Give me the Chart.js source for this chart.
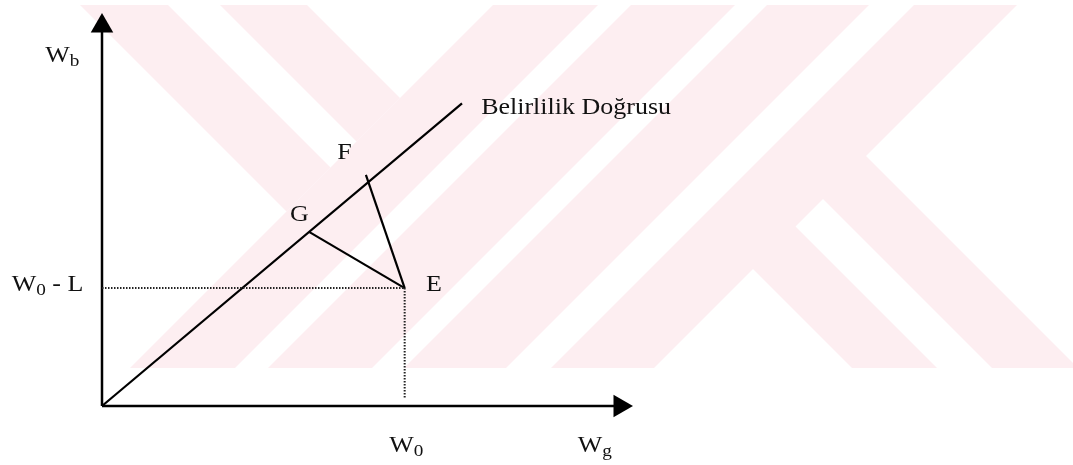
<!DOCTYPE html>
<html>
<head>
<meta charset="utf-8">
<script src="https://cdn.jsdelivr.net/npm/chart.js@4/dist/chart.umd.min.js"></script>
<style>
    html, body { margin: 0; padding: 0; background: #fff; }
    #wrap { width: 1073px; height: 465px; position: relative; }
</style>
</head>
<body>
<div id="wrap"><canvas id="diagramCanvas"></canvas></div>
<script>
// diagram values (x = Wg, y = Wb)
const axisX = [[0, 0], [9.755, 0]];
const axisY = [[0, 0], [0, 9.67]];
const certaintyLine = [[0, 0], [6.78, 7.70]];
const lineToG = [[5.7, 3.0], [3.9, 4.43]];
const lineToF = [[5.7, 3.0], [4.97, 5.88]];
const guideW0L = [[0, 3.0], [5.7, 3.0]];
const guideW0 = [[5.7, 3.0], [5.7, 0.2]];

// text labels: main text, subscript, trailing text, anchor in data units
const textLabels = [
    { main: 'W', sub: 'b', rest: '', x: -1.07, y: 8.76 },
    { main: 'W', sub: '0', rest: ' - L', x: -1.70, y: 2.93 },
    { main: 'E', sub: '', rest: '', x: 6.10, y: 2.93 },
    { main: 'G', sub: '', rest: '', x: 3.54, y: 4.72 },
    { main: 'F', sub: '', rest: '', x: 4.43, y: 6.29 },
    { main: 'Belirlilik Doğrusu', sub: '', rest: '', x: 7.14, y: 7.42 },
    { main: 'W', sub: '0', rest: '', x: 5.41, y: -1.16 },
    { main: 'W', sub: 'g', rest: '', x: 8.96, y: -1.16 }
];

function toPoints(pairs) {
    return pairs.map(p => ({ x: p[0], y: p[1] }));
}

function segment(pairs, extra) {
    return Object.assign({
        data: toPoints(pairs),
        showLine: true,
        borderColor: '#000',
        borderWidth: 2.2,
        pointRadius: 0,
        clip: false
    }, extra || {});
}

// faint watermark behind the diagram
const watermarkPlugin = {
    id: 'watermark',
    beforeDraw(chart) {
        const ctx = chart.ctx;
        const uv = (u, v) => [(u + v) / 2, (v - u) / 2];
        const bands = [
            [75, 163, -600, 498],
            [215, 302, -600, 498],
            [-1200, 1200, 498, 603],
            [-1200, 1200, 636, 740],
            [-1200, 1200, 772, 874],
            [-1200, 1200, 919, 1022],
            [484, 569, 1000, 2400],
            [624, 710, 1015, 2400]
        ];
        ctx.save();
        ctx.beginPath();
        ctx.rect(77, 5, 996, 363);
        ctx.clip();
        ctx.fillStyle = '#fdeef1';
        bands.forEach(b => {
            const pts = [uv(b[0], b[2]), uv(b[1], b[2]), uv(b[1], b[3]), uv(b[0], b[3])];
            ctx.beginPath();
            ctx.moveTo(pts[0][0], pts[0][1]);
            pts.slice(1).forEach(p => ctx.lineTo(p[0], p[1]));
            ctx.closePath();
            ctx.fill();
        });
        ctx.restore();
    }
};

const textPlugin = {
    id: 'diagramText',
    afterDatasetsDraw(chart) {
        const ctx = chart.ctx;
        const xs = chart.scales.x;
        const ys = chart.scales.y;
        const mainFont = '23px "Liberation Serif", "Times New Roman", serif';
        const subFont = '17px "Liberation Serif", "Times New Roman", serif';
        ctx.save();
        ctx.fillStyle = '#111';
        ctx.textBaseline = 'alphabetic';
        ctx.textAlign = 'left';
        textLabels.forEach(t => {
            ctx.save();
            ctx.translate(xs.getPixelForValue(t.x), ys.getPixelForValue(t.y));
            ctx.scale(1.13, 1);
            ctx.font = mainFont;
            ctx.fillText(t.main, 0, 0);
            let w = ctx.measureText(t.main).width;
            if (t.sub) {
                ctx.font = subFont;
                ctx.fillText(t.sub, w, 4);
                w += ctx.measureText(t.sub).width;
            }
            if (t.rest) {
                ctx.font = mainFont;
                ctx.fillText(t.rest, w, 0);
            }
            ctx.restore();
        });
        ctx.restore();
    }
};

new Chart(document.getElementById('diagramCanvas'), {
    type: 'scatter',
    data: {
        datasets: [
            segment(guideW0L, { borderWidth: 2, borderDash: [1.5, 1.5], borderColor: '#222' }),
            segment(guideW0, { borderWidth: 2, borderDash: [1.5, 1.5], borderColor: '#222' }),
            segment(certaintyLine),
            segment(lineToG),
            segment(lineToF),
            segment(axisX, {
                borderWidth: 2.5,
                pointRadius: [0, 13],
                pointStyle: 'triangle',
                pointRotation: 90,
                pointBackgroundColor: '#000',
                pointBorderWidth: 0
            }),
            segment(axisY, {
                borderWidth: 2.5,
                pointRadius: [0, 13],
                pointStyle: 'triangle',
                pointBackgroundColor: '#000',
                pointBorderWidth: 0
            })
        ]
    },
    options: {
        responsive: true,
        maintainAspectRatio: false,
        animation: false,
        layout: { padding: { left: 102, right: 440, top: 10, bottom: 59 } },
        plugins: {
            legend: { display: false },
            tooltip: { enabled: false }
        },
        scales: {
            x: { type: 'linear', min: 0, max: 10, display: false },
            y: { type: 'linear', min: 0, max: 10, display: false }
        }
    },
    plugins: [watermarkPlugin, textPlugin]
});
</script>
</body>
</html>
